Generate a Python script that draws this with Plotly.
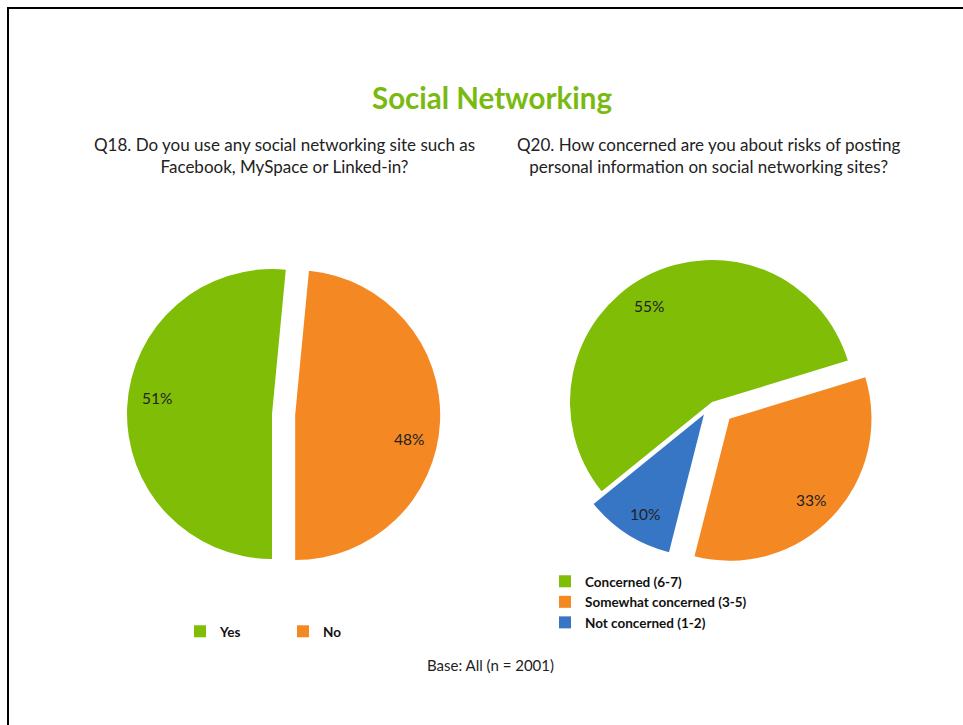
import math
import plotly.graph_objects as go

# ---- data ----
q18_labels = ["Yes", "No"]
q18_values = [51, 48]

q20_labels = ["Concerned (6-7)", "Somewhat concerned (3-5)", "Not concerned (1-2)"]
q20_values = [55, 33, 10]

# ---- style ----
W, H = 963, 725
GREEN = "#7FBD06"
ORANGE = "#F48924"
BLUE = "#3776C4"
TITLE_GREEN = "#79BA10"
TEXT = "#222222"
FONT = "Lato"

q18_colors = [GREEN, ORANGE]
q20_colors = [GREEN, ORANGE, BLUE]

q18_pull = [0, 0.16]
q20_pull = [0, 0.17, 0.105]

q18_rotation = 180
q20_rotation = 231


def pie_domain(cx, cy, r, pulls):
    """Domain box (paper fractions) giving a pie of radius r centred at (cx, cy) px."""
    half = r * (1 + max(pulls))
    return dict(x=[(cx - half) / W, (cx + half) / W],
                y=[1 - (cy + half) / H, 1 - (cy - half) / H])


q18_domain = pie_domain(272, 414, 145, q18_pull)
q20_domain = pie_domain(712, 402, 142, q20_pull)

# label placement: fraction of radius and angular nudge per slice
q18_label_r = 0.8
q18_label_shift = [5, 9]
q20_label_r = 0.81
q20_label_shift = [-5, 1, -2]


def slice_labels(values, domain, pulls, rotation, r_frac, shifts):
    """Paper positions for value labels, following the pie's own geometry."""
    dx = domain["x"][1] - domain["x"][0]
    dy = domain["y"][1] - domain["y"][0]
    r = min(dx * W, dy * H) / 2 / (1 + max(pulls))
    cx = (domain["x"][0] + domain["x"][1]) / 2 * W
    cy = (1 - (domain["y"][0] + domain["y"][1]) / 2) * H
    total = sum(values)
    start = rotation
    out = []
    for v, p, s in zip(values, pulls, shifts):
        span = 360 * v / total
        mid = math.radians(start + span / 2)
        lab = math.radians(start + span / 2 + s)
        px = cx + p * r * math.sin(mid) + r_frac * r * math.sin(lab)
        py = cy - p * r * math.cos(mid) - r_frac * r * math.cos(lab)
        out.append((px / W, 1 - py / H, f"{v}%"))
        start += span
    return out


fig = go.Figure()

fig.add_trace(go.Pie(
    labels=q18_labels, values=q18_values, sort=False,
    direction="clockwise", rotation=q18_rotation, pull=q18_pull,
    marker=dict(colors=q18_colors, line=dict(width=0)),
    textinfo="none", hoverinfo="label+value",
    domain=q18_domain, legend="legend",
))

fig.add_trace(go.Pie(
    labels=q20_labels, values=q20_values, sort=False,
    direction="clockwise", rotation=q20_rotation, pull=q20_pull,
    marker=dict(colors=q20_colors, line=dict(width=0)),
    textinfo="none", hoverinfo="label+value",
    domain=q20_domain, legend="legend2",
))

annotations = []
for lst in (
    slice_labels(q18_values, q18_domain, q18_pull, q18_rotation, q18_label_r, q18_label_shift),
    slice_labels(q20_values, q20_domain, q20_pull, q20_rotation, q20_label_r, q20_label_shift),
):
    for x, y, t in lst:
        annotations.append(dict(
            x=x, y=y, xref="paper", yref="paper", text=t, showarrow=False,
            font=dict(family=FONT, size=15.5, color=TEXT),
            xanchor="center", yanchor="middle",
        ))

annotations += [
    dict(x=492 / W, y=1 - 98 / H, xref="paper", yref="paper",
         text="Social Networking", showarrow=False,
         font=dict(family=FONT, size=29.5, color=TITLE_GREEN, weight="bold"),
         xanchor="center", yanchor="middle"),
    dict(x=284 / W, y=1 - 155 / H, xref="paper", yref="paper",
         text="Q18. Do you use any social networking site such as<br>Facebook, MySpace or Linked-in?",
         showarrow=False, align="center",
         font=dict(family=FONT, size=17, color=TEXT),
         xanchor="center", yanchor="middle"),
    dict(x=708 / W, y=1 - 155 / H, xref="paper", yref="paper",
         text="Q20. How concerned are you about risks of posting<br>personal information on social networking sites?",
         showarrow=False, align="center",
         font=dict(family=FONT, size=17, color=TEXT),
         xanchor="center", yanchor="middle"),
    dict(x=490 / W, y=1 - 665 / H, xref="paper", yref="paper",
         text="Base: All (n = 2001)", showarrow=False,
         font=dict(family=FONT, size=15, color=TEXT),
         xanchor="center", yanchor="middle"),
]

fig.update_layout(
    width=W, height=H,
    margin=dict(l=0, r=0, t=0, b=0),
    paper_bgcolor="white", plot_bgcolor="white",
    annotations=annotations,
    legend=dict(
        orientation="h", x=180 / W, y=1 - 616 / H, xanchor="left", yanchor="top",
        entrywidth=58, font=dict(family=FONT, size=13.5, color="#111111", weight="bold"),
        bgcolor="rgba(0,0,0,0)", itemclick=False, itemdoubleclick=False,
    ),
    legend2=dict(
        orientation="v", x=545 / W, y=1 - 566 / H, xanchor="left", yanchor="top",
        font=dict(family=FONT, size=13.5, color="#111111", weight="bold"),
        bgcolor="rgba(0,0,0,0)", itemclick=False, itemdoubleclick=False,
    ),
    shapes=[dict(
        type="rect", xref="paper", yref="paper",
        x0=8 / W, x1=1.02, y0=-0.02, y1=1 - 8 / H,
        line=dict(color="black", width=2), fillcolor="rgba(0,0,0,0)", layer="above",
    )],
)

fig.write_html("out.html")
